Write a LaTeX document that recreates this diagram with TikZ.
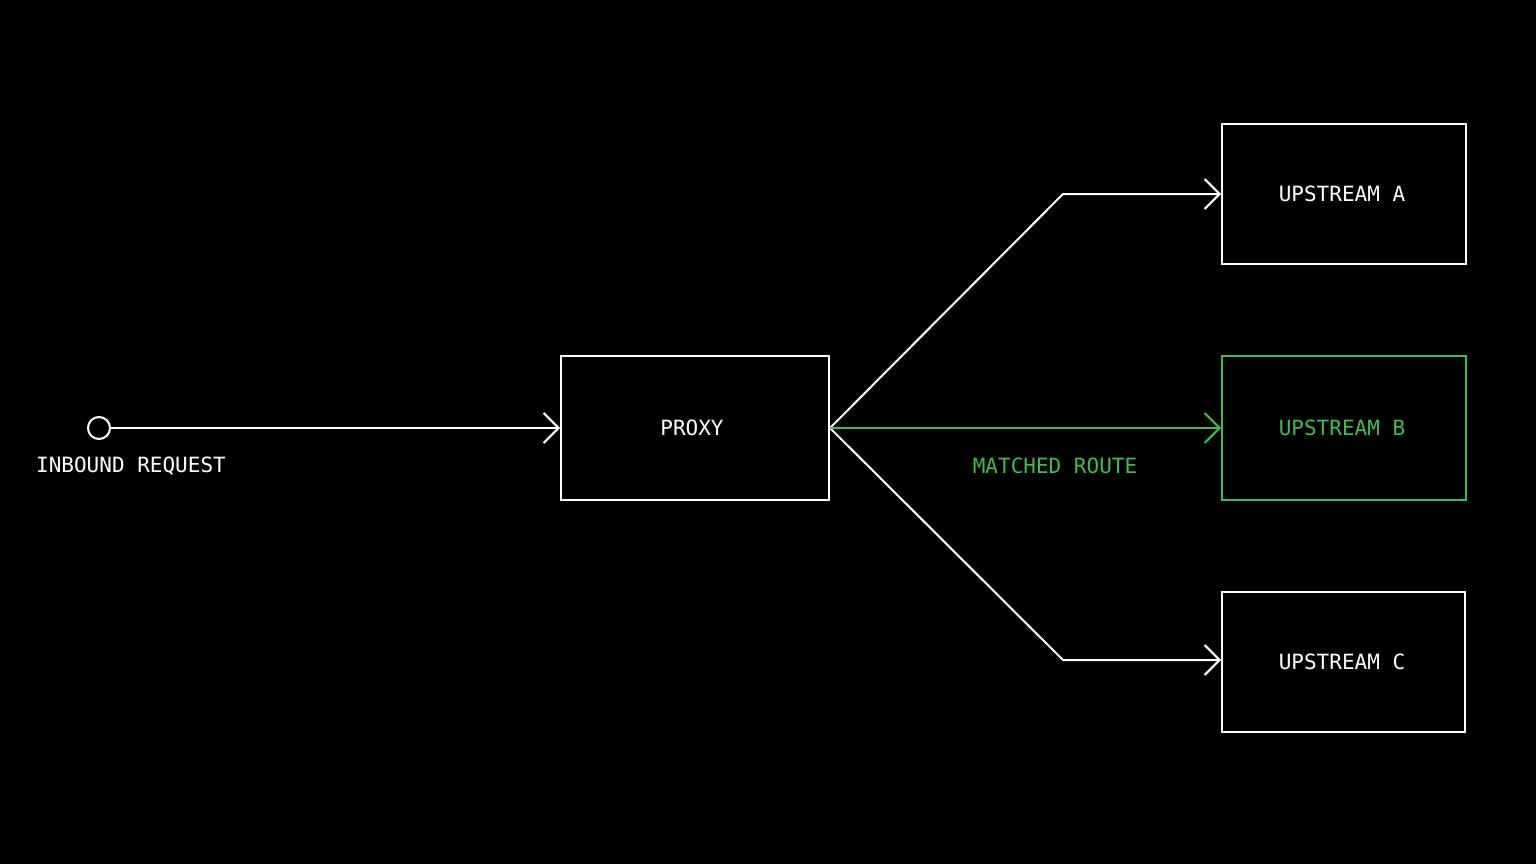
\documentclass[tikz,border=0pt]{standalone}
\usepackage{fontspec}
\setmonofont{DejaVu Sans Mono}
\usetikzlibrary{arrows.meta}
\definecolor{routegreen}{RGB}{62,190,72}
\begin{document}
\begin{tikzpicture}[x=1pt,y=-1pt,
  box/.style={draw=white,line width=2pt,minimum width=#1,inner sep=0pt},
  lbl/.style={font=\ttfamily\fontsize{21}{24}\selectfont,text=white},
  conn/.style={draw=white,line width=2pt,-{Straight Barb[length=15pt,width=30pt,line width=2pt]}}
]
\fill[black] (0,0) rectangle (1536,864);
\useasboundingbox (0,0) rectangle (1536,864);

\node[draw=white,line width=2pt,circle,minimum size=22pt,inner sep=0pt] (src) at (99,428) {};
\node[lbl] (srclbl) at (131,466) {INBOUND REQUEST};

\node[box=268pt,minimum height=144pt] (proxy) at (695,428) {};
\node[lbl] at (692,428) {PROXY};

\node[box=244pt,minimum height=140pt] (ua) at (1344,194) {};
\node[lbl] at (1342,194) {UPSTREAM A};

\node[box=244pt,minimum height=144pt,draw=routegreen] (ub) at (1344,428) {};
\node[lbl,text=routegreen] at (1342,428) {UPSTREAM B};

\node[box=243pt,minimum height=140pt] (uc) at (1343.5,662) {};
\node[lbl] at (1342,662) {UPSTREAM C};

\coordinate (bendA) at (1063,194);
\coordinate (bendC) at (1063,660);

\draw[conn] (src.east) -- (src.east -| proxy.west);
\draw[conn] (proxy.east) -- (bendA) -- (bendA -| ua.west);
\draw[conn] (proxy.east) -- (bendC) -- (bendC -| uc.west);
\draw[conn,draw=routegreen,-{Straight Barb[length=15pt,width=30pt,line width=2pt,color=routegreen]}] (proxy.east) -- (ub.west);
\node[lbl,text=routegreen] (matched) at (1055,466) {MATCHED ROUTE};
\end{tikzpicture}
\end{document}
